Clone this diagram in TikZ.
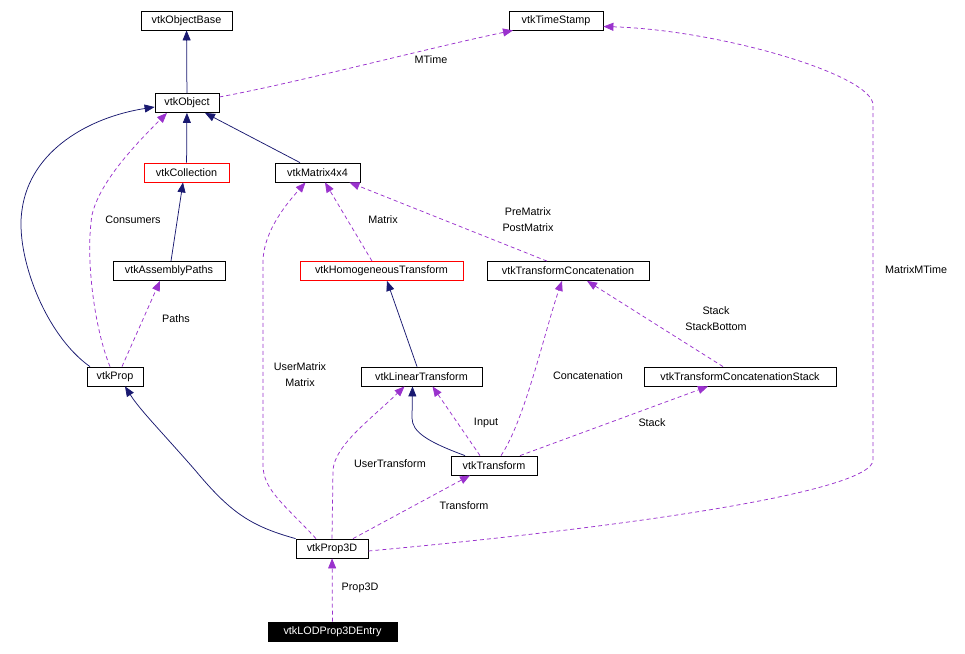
\documentclass[tikz,border=0pt]{standalone}
\usepackage{fontspec}
\setmainfont{Liberation Sans}
\usetikzlibrary{arrows.meta}
\definecolor{inhblue}{RGB}{25,25,112}
\definecolor{usepurple}{RGB}{154,50,205}
\begin{document}
\begin{tikzpicture}[x=1pt, y=-1pt, font=\fontsize{10.8}{12}\selectfont,
    cls/.style={draw, line width=0.8pt, minimum height=19pt, inner sep=0pt},
    inh/.style={inhblue, line width=0.75pt, -{Triangle[length=10pt,width=8pt]}},
    uses/.style={usepurple, line width=0.75pt, dash pattern=on 4pt off 3pt, -{Triangle[length=10pt,width=8pt]}},
    lbl/.style={align=center, inner sep=0pt, font=\fontsize{10.8}{16}\selectfont}]
  \useasboundingbox (0,0) rectangle (965,653);
  % classes
  \node[cls, minimum width=91pt] (vtkObjectBase) at (186.5,20.5) {vtkObjectBase};
  \node[cls, minimum width=94pt] (vtkTimeStamp) at (556,20.5) {vtkTimeStamp};
  \node[cls, minimum width=64pt] (vtkObject) at (187,103) {vtkObject};
  \node[cls, draw=red, minimum width=85pt] (vtkCollection) at (186.5,172.5) {vtkCollection};
  \node[cls, minimum width=85pt] (vtkMatrix4x4) at (317.5,172.5) {vtkMatrix4x4};
  \node[cls, minimum width=112pt] (vtkAssemblyPaths) at (169,271) {vtkAssemblyPaths};
  \node[cls, draw=red, minimum width=163pt] (vtkHomogeneousTransform) at (381.5,271) {vtkHomogeneousTransform};
  \node[cls, minimum width=162pt] (vtkTransformConcatenation) at (568,271) {vtkTransformConcatenation};
  \node[cls, minimum width=56pt] (vtkProp) at (115,376.5) {vtkProp};
  \node[cls, minimum width=121pt] (vtkLinearTransform) at (421.5,376.5) {vtkLinearTransform};
  \node[cls, minimum width=192pt] (vtkTransformConcatenationStack) at (740,376.5) {vtkTransformConcatenationStack};
  \node[cls, minimum width=86pt] (vtkTransform) at (494,465.5) {vtkTransform};
  \node[cls, minimum width=72pt] (vtkProp3D) at (332,548.5) {vtkProp3D};
  \node[cls, fill=black, text=white, minimum width=129pt] (vtkLODProp3DEntry) at (332.5,631.5) {vtkLODProp3DEntry};
  % inheritance
  \draw[inh] (vtkObject) -- (vtkObjectBase);
  \draw[inh] (vtkCollection) -- (vtkObject);
  \draw[inh] ([xshift=-17.5pt]vtkMatrix4x4.north) -- ([xshift=18pt]vtkObject.south);
  \draw[inh] ([xshift=2pt]vtkAssemblyPaths.north) -- ([xshift=-3.5pt]vtkCollection.south);
  \draw[inh] ([xshift=-25pt]vtkProp.north) .. controls (45,335) and (15,255) .. (22,210)
    .. controls (30,150) and (90,117) .. ([yshift=-4pt]vtkObject.west);
  \draw[inh] (vtkProp3D.north west) .. controls (250,526) and (230,512) .. (195,470)
    .. controls (160,430) and (140,410) .. ([xshift=10pt]vtkProp.south);
  \draw[inh] ([xshift=-4.5pt]vtkLinearTransform.north) -- ([xshift=5.5pt]vtkHomogeneousTransform.south);
  \draw[inh] ([xshift=-29pt]vtkTransform.north) .. controls (428,442) and (412,432) .. (412,418)
    -- ([xshift=-9pt]vtkLinearTransform.south);
  % usage
  \draw[uses] ([yshift=6pt]vtkObject.east) .. controls (300,82) and (420,50) .. ([xshift=-43pt]vtkTimeStamp.south);
  \draw[uses] ([xshift=-5pt]vtkProp.north) .. controls (95,330) and (85,260) .. (92,215)
    .. controls (100,180) and (140,140) .. ([xshift=-20pt]vtkObject.south);
  \draw[uses] ([xshift=7pt]vtkProp.north) -- ([xshift=-9pt]vtkAssemblyPaths.south);
  \draw[uses] ([xshift=-16pt]vtkProp3D.north) .. controls (285,505) and (263,490) .. (263,465)
    -- (263,262) .. controls (263,230) and (290,200) .. ([xshift=-12pt]vtkMatrix4x4.south);
  \draw[uses] ([xshift=-9.5pt]vtkHomogeneousTransform.north) -- ([xshift=7.5pt]vtkMatrix4x4.south);
  \draw[uses] ([xshift=-21pt]vtkTransformConcatenation.north) -- ([xshift=32pt]vtkMatrix4x4.south);
  \draw[uses] ([xshift=-14pt]vtkTransform.north) -- ([xshift=11pt]vtkLinearTransform.south);
  \draw[uses] ([xshift=7pt]vtkTransform.north) .. controls (525,420) and (545,330) .. ([xshift=-6pt]vtkTransformConcatenation.south);
  \draw[uses] ([xshift=26pt]vtkTransform.north) -- ([xshift=-32pt]vtkTransformConcatenationStack.south);
  \draw[uses] ([xshift=-17pt]vtkTransformConcatenationStack.north) -- ([xshift=19pt]vtkTransformConcatenation.south);
  \draw[uses] (vtkProp3D.north) -- (333,470) .. controls (335,445) and (370,420) .. ([xshift=-17pt]vtkLinearTransform.south);
  \draw[uses] ([xshift=21pt]vtkProp3D.north) -- ([xshift=-24pt]vtkTransform.south);
  \draw[uses] ([yshift=-2.5pt]vtkProp3D.east) .. controls (650,525) and (873,490) .. (873,460)
    -- (873,105) .. controls (873,75) and (720,30) .. ([yshift=-6pt]vtkTimeStamp.east);
  \draw[uses] (vtkLODProp3DEntry) -- (vtkProp3D);
  % labels
  \node[lbl] (lMTime) at (431,60) {MTime};
  \node[lbl] (lConsumers) at (133,220) {Consumers};
  \node[lbl] (lPaths) at (176,319) {Paths};
  \node[lbl] (lUserMatrix) at (300,375) {UserMatrix\\Matrix};
  \node[lbl] (lMatrix) at (383,220) {Matrix};
  \node[lbl] (lPreMatrix) at (528,220) {PreMatrix\\PostMatrix};
  \node[lbl] (lInput) at (486,423) {Input};
  \node[lbl] (lConcatenation) at (588,376) {Concatenation};
  \node[lbl] (lStack) at (652,423) {Stack};
  \node[lbl] (lStackBottom) at (716,319) {Stack\\StackBottom};
  \node[lbl] (lUserTransform) at (390,464) {UserTransform};
  \node[lbl] (lTransform) at (464,506) {Transform};
  \node[lbl] (lMatrixMTime) at (916,270) {MatrixMTime};
  \node[lbl] (lProp3D) at (360,588) {Prop3D};
\end{tikzpicture}
\end{document}
